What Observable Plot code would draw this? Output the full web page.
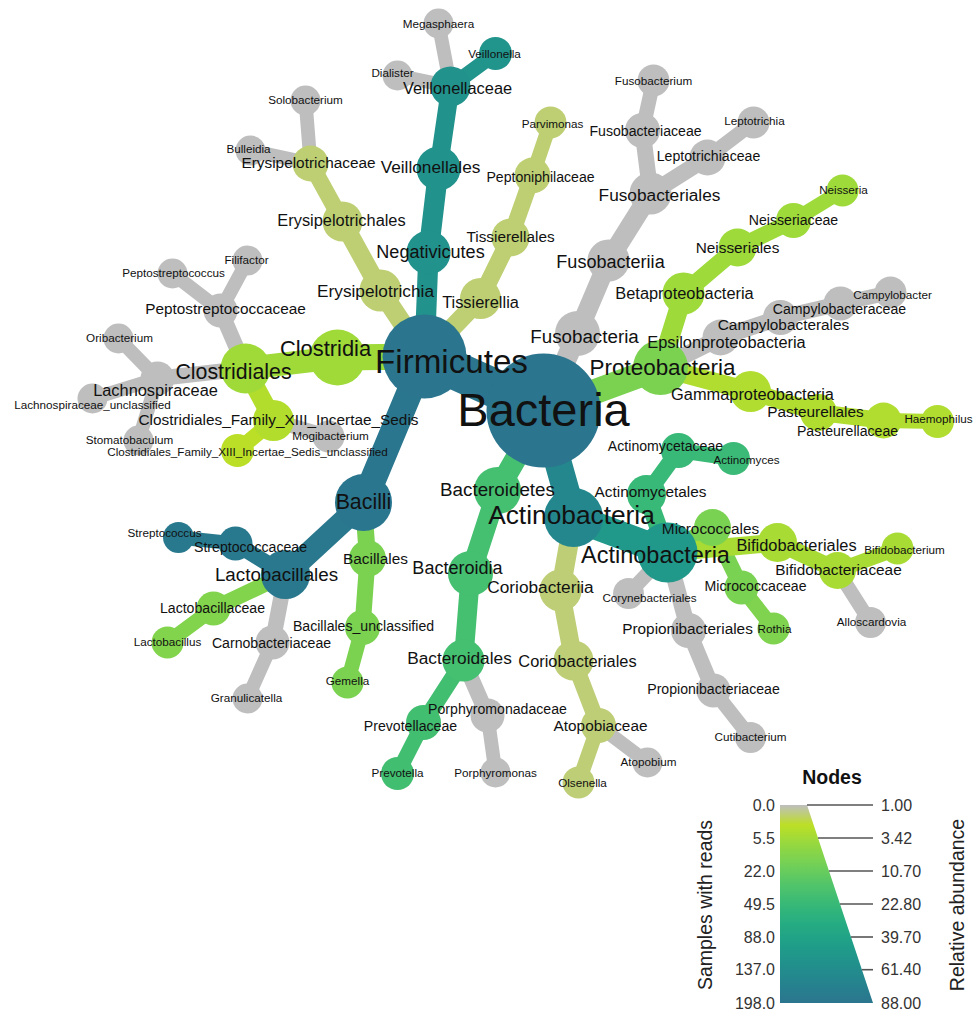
<!DOCTYPE html>
<html>
<head>
<meta charset="utf-8">
<script src="https://cdn.jsdelivr.net/npm/d3@7"></script>
<script src="https://cdn.jsdelivr.net/npm/@observablehq/plot@0.6"></script>
<style>
  html, body { margin: 0; padding: 0; background: #fff; }
  #chart { width: 973px; height: 1010px; }
</style>
</head>
<body>
<div id="chart"></div>
<script>
// ---- Taxonomy (ids are unique; a rank tag in parentheses is not drawn) ----
const taxa = [
  "Bacteria",
  "Firmicutes", "Negativicutes", "Veillonellales", "Veillonellaceae", "Veillonella", "Megasphaera", "Dialister",
  "Erysipelotrichia", "Erysipelotrichales", "Erysipelotrichaceae", "Solobacterium", "Bulleidia",
  "Tissierellia", "Tissierellales", "Peptoniphilaceae", "Parvimonas",
  "Clostridia", "Clostridiales", "Peptostreptococcaceae", "Peptostreptococcus", "Filifactor",
  "Lachnospiraceae", "Oribacterium", "Lachnospiraceae_unclassified", "Stomatobaculum",
  "Clostridiales_Family_XIII_Incertae_Sedis", "Clostridiales_Family_XIII_Incertae_Sedis_unclassified", "Mogibacterium",
  "Bacilli", "Lactobacillales", "Streptococcaceae", "Streptococcus", "Lactobacillaceae", "Lactobacillus",
  "Carnobacteriaceae", "Granulicatella", "Bacillales", "Bacillales_unclassified", "Gemella",
  "Actinobacteria (phylum)", "Actinobacteria (class)", "Actinomycetales", "Actinomycetaceae", "Actinomyces",
  "Micrococcales", "Micrococcaceae", "Rothia", "Bifidobacteriales", "Bifidobacteriaceae", "Bifidobacterium", "Alloscardovia",
  "Corynebacteriales", "Propionibacteriales", "Propionibacteriaceae", "Cutibacterium",
  "Coriobacteriia", "Coriobacteriales", "Atopobiaceae", "Olsenella", "Atopobium",
  "Proteobacteria", "Betaproteobacteria", "Neisseriales", "Neisseriaceae", "Neisseria",
  "Epsilonproteobacteria", "Campylobacterales", "Campylobacteraceae", "Campylobacter",
  "Gammaproteobacteria", "Pasteurellales", "Pasteurellaceae", "Haemophilus",
  "Bacteroidetes", "Bacteroidia", "Bacteroidales", "Prevotellaceae", "Prevotella", "Porphyromonadaceae", "Porphyromonas",
  "Fusobacteria", "Fusobacteriia", "Fusobacteriales", "Fusobacteriaceae", "Fusobacterium", "Leptotrichiaceae", "Leptotrichia"
];

const parents = [
  "",
  "Bacteria", "Firmicutes", "Negativicutes", "Veillonellales", "Veillonellaceae", "Veillonellaceae", "Veillonellaceae",
  "Firmicutes", "Erysipelotrichia", "Erysipelotrichales", "Erysipelotrichaceae", "Erysipelotrichaceae",
  "Firmicutes", "Tissierellia", "Tissierellales", "Peptoniphilaceae",
  "Firmicutes", "Clostridia", "Clostridiales", "Peptostreptococcaceae", "Peptostreptococcaceae",
  "Clostridiales", "Lachnospiraceae", "Lachnospiraceae", "Lachnospiraceae",
  "Clostridiales", "Clostridiales_Family_XIII_Incertae_Sedis", "Clostridiales_Family_XIII_Incertae_Sedis",
  "Firmicutes", "Bacilli", "Lactobacillales", "Streptococcaceae", "Lactobacillales", "Lactobacillaceae",
  "Lactobacillales", "Carnobacteriaceae", "Bacilli", "Bacillales", "Bacillales_unclassified",
  "Bacteria", "Actinobacteria (phylum)", "Actinobacteria (class)", "Actinomycetales", "Actinomycetaceae",
  "Actinobacteria (class)", "Micrococcales", "Micrococcaceae", "Actinobacteria (class)", "Bifidobacteriales", "Bifidobacteriaceae", "Bifidobacteriaceae",
  "Actinobacteria (class)", "Actinobacteria (class)", "Propionibacteriales", "Propionibacteriaceae",
  "Actinobacteria (phylum)", "Coriobacteriia", "Coriobacteriales", "Atopobiaceae", "Atopobiaceae",
  "Bacteria", "Proteobacteria", "Betaproteobacteria", "Neisseriales", "Neisseriaceae",
  "Proteobacteria", "Epsilonproteobacteria", "Campylobacterales", "Campylobacteraceae",
  "Proteobacteria", "Gammaproteobacteria", "Pasteurellales", "Pasteurellaceae",
  "Bacteria", "Bacteroidetes", "Bacteroidia", "Bacteroidales", "Prevotellaceae", "Bacteroidales", "Porphyromonadaceae",
  "Bacteria", "Fusobacteria", "Fusobacteriia", "Fusobacteriales", "Fusobacteriaceae", "Fusobacteriales", "Leptotrichiaceae"
];

// Number of samples with reads for each taxon (node and edge colour)
const samplesWithReads = [
  198,
  195, 125, 125, 124, 120, 0, 0,
  0.5, 0.5, 0.5, 0, 0,
  0.5, 0.5, 0.5, 0.5,
  6, 6, 0, 0, 0,
  0, 0, 0, 0,
  3.2, 2.2, 0,
  194, 190, 186, 186, 13, 13,
  0, 0, 15, 15, 15,
  150, 112, 50, 50, 48,
  15.5, 15.5, 14, 4.6, 4.6, 4.6, 0,
  0, 0, 0, 0,
  0.45, 0.45, 0.45, 0.45, 0,
  15, 6.3, 6.3, 6.3, 6.3,
  0, 0, 0, 0,
  3.5, 3.5, 3.5, 3.5,
  40, 40, 40, 42, 42, 0, 0,
  0, 0, 0, 0, 0, 0, 0
];

// Relative abundance of each taxon (node and edge size)
const relativeAbundance = [
  88,
  37, 3.43, 3.43, 2.23, 1.11, 1, 1,
  2.78, 2.23, 1.44, 1, 1,
  2.49, 1.79, 1.44, 1.05,
  9.33, 5.93, 1.2, 1, 1,
  1.2, 1, 1, 1,
  2.49, 1.11, 1.05,
  9.99, 5.49, 1.2, 1.01, 1.2, 1.05,
  1.2, 1, 1.6, 1.31, 1.05,
  11.3, 12.1, 2.0, 1.31, 1.11,
  1.6, 1.2, 1.05, 2.0, 1.6, 1.05, 1.01,
  1.01, 1.31, 1.2, 1.01,
  2.78, 2.23, 1.31, 1.05, 1,
  8.7, 2.78, 1.79, 1.31, 1.05,
  1.44, 1.31, 1.2, 1.05,
  2.49, 1.6, 1.44, 1.11,
  4.58, 3.8, 2.78, 1.31, 1.11, 1.2, 1,
  3.8, 2.78, 2.78, 1.31, 1.05, 1.44, 1.05
];

// ---- Tree layout (layout units) ----
const layoutX = [
  543,
  424, 428, 438, 450, 495, 438, 397,
  380, 342, 310, 305, 250,
  480, 510, 532, 550,
  337, 245, 220, 172, 247,
  157, 118, 92, 138,
  273, 237, 328,
  363, 285, 235, 178, 213, 167,
  272, 247, 367, 362, 347,
  573, 667, 646, 678, 733,
  712, 741, 773, 777, 837, 897, 870,
  628, 688, 713, 750,
  560, 573, 598, 578, 647,
  660, 683, 737, 793, 842,
  720, 780, 840, 890,
  750, 818, 883, 937,
  497, 470, 463, 423, 397, 487, 495,
  577, 608, 650, 642, 653, 707, 753
];
const layoutY = [
  410,
  356, 252, 168, 86, 53, 23, 75,
  290, 221, 163, 100, 150,
  298, 237, 175, 122,
  357, 368, 310, 273, 260,
  378, 338, 398, 440,
  420, 450, 436,
  502, 574, 543, 537, 608, 642,
  642, 698, 558, 627, 682,
  517, 552, 494, 450, 458,
  527, 587, 628, 542, 570, 548, 622,
  593, 630, 690, 737,
  590, 660, 725, 782, 762,
  367, 293, 247, 220, 190,
  337, 317, 303, 292,
  391, 412, 420, 421,
  490, 573, 660, 722, 773, 715, 772,
  333, 260, 193, 130, 80, 157, 122
];
// Label offsets from each node centre
const labelDx = [
  0,
  27, 2, -8, 7, -1, 0, -5,
  -5, -1, -2, 0, -2,
  0, 0, 8, 2,
  -12, -12, 5, 1, -1,
  -2, 1, 0, -9,
  5, 10, 2,
  0, -9, 15, -14, -1, 0,
  -1, -1, 8, 1, 0,
  -2, -12, 4, -13, 13,
  -2, 14, 1, 19, 1, 7, 1,
  21, -1, 0, 0,
  -20, 4, 2, 4, 1,
  2, 1, 0, 0, 1,
  6, 3, -1, 2,
  2, -3, -36, 1,
  0, -13, -4, -13, 0, 10, 0,
  7, 2, 9, 3, 0, 1, 1
];
const labelDy = [
  0,
  6, 0, -1, 2, 1, 1, -2,
  1, -1, 0, 0, -1,
  4, 0, 2, 2,
  -9, 4, -1, 0, 0,
  12, 0, 7, 0,
  0, 2, 0,
  0, 0, 4, -4, 0, 0,
  1, 0, 1, -1, -1,
  -2, 3, -2, -4, 2,
  2, -1, 1, 3, 0, 2, 0,
  5, -1, -1, 0,
  -3, 1, 1, 1, 0,
  0, 0, 1, 0, 0,
  5, 8, 6, 3,
  3, 0, 11, -2,
  -1, -5, -2, 4, 0, -6, 1,
  3, 2, 2, 1, 1, -1, -1
];

// ---- Legend ticks ----
const readsTicks = [0, 5.5, 22, 49.5, 88, 137, 198];
const abundanceTicks = [1, 3.42, 10.7, 22.8, 39.7, 61.4, 88];

// ---- Build nodes and edges ----
const nodes = taxa.map((id, i) => ({
  id,
  name: id.replace(/ \(.+\)$/, ""),
  parent: parents[i],
  reads: samplesWithReads[i],
  abundance: relativeAbundance[i],
  x: layoutX[i],
  y: layoutY[i],
  lx: layoutX[i] + labelDx[i],
  ly: layoutY[i] + labelDy[i],
  descendants: 0
}));
const byId = new Map(nodes.map(d => [d.id, d]));
for (const n of nodes) {
  let p = byId.get(n.parent);
  while (p) { p.descendants++; p = byId.get(p.parent); }
}
const edges = nodes.filter(d => byId.has(d.parent)).map(d => {
  const p = byId.get(d.parent);
  return {x1: p.x, y1: p.y, x2: d.x, y2: d.y, reads: d.reads, abundance: d.abundance};
});

// ---- Scales ----
// grey for no reads, then viridis from yellow-green to blue-teal
const ramp = ["#bebebe", ...d3.range(10).map(i => d3.interpolateViridis(0.9 - i * (0.9 - 0.39) / 9))];
const colorRamp = d3.piecewise(d3.interpolateRgb, ramp);
const colorOptions = {type: "sqrt", domain: [0, 198], interpolate: colorRamp};
// node radius grows with the square root of abundance above the minimum (1)
const rOptions = {type: "sqrt", domain: [0, 87], range: [15, 57]};
const rScale = Plot.scale({r: rOptions});
const colorScale = Plot.scale({color: colorOptions});
// label size grows with the number of subtaxa below a node
const labelScale = Plot.scale({r: {type: "pow", exponent: 0.6, domain: [0, 87], range: [11.7, 47]}});

const fontFamily = "'Liberation Sans', Arial, Helvetica, sans-serif";

const chart = Plot.plot({
  width: 973,
  height: 1010,
  margin: 0,
  x: {domain: [0, 973], range: [0, 973], axis: null},
  y: {domain: [0, 1010], range: [0, 1010], axis: null},
  r: rOptions,
  color: colorOptions,
  style: {fontFamily, background: "#fff", overflow: "visible"},
  marks: [
    Plot.link(edges, {
      x1: "x1", y1: "y1", x2: "x2", y2: "y2",
      stroke: "reads",
      strokeWidth: d => 0.92 * rScale.apply(d.abundance - 1),
      strokeLinecap: "round"
    }),
    Plot.dot(nodes, {
      x: "x", y: "y",
      r: d => d.abundance - 1,
      fill: "reads",
      stroke: "none"
    }),
    Plot.text(nodes, {
      x: "lx", y: "ly",
      text: "name",
      fontSize: d => labelScale.apply(d.descendants),
      fill: "#111"
    })
  ]
});
document.getElementById("chart").appendChild(chart);

// ---- Legend: colour (samples with reads) and size (relative abundance) ----
const svg = d3.select(chart);
const L = {left: 780, top: 805, bottom: 1003, topW: 27, botW: 93, tickEnd: 873};
const posOfReads = v => Math.sqrt(v / 198);
const yOfPos = p => L.top + p * (L.bottom - L.top);

const grad = svg.append("defs").append("linearGradient")
  .attr("id", "nodes-legend-gradient")
  .attr("x1", 0).attr("x2", 0).attr("y1", 0).attr("y2", 1);
d3.range(0, 1.0001, 0.02).forEach(p => {
  grad.append("stop").attr("offset", p).attr("stop-color", colorScale.apply(198 * p * p));
});

const lg = svg.append("g").attr("font-family", fontFamily);
lg.append("polygon")
  .attr("points", [
    [L.left, L.top], [L.left + L.topW, L.top],
    [L.left + L.botW, L.bottom], [L.left, L.bottom]
  ].map(p => p.join(",")).join(" "))
  .attr("fill", "url(#nodes-legend-gradient)");

readsTicks.forEach((v, i) => {
  const p = posOfReads(v);
  const y = yOfPos(p);
  const xStart = L.left + L.topW + (L.botW - L.topW) * p;
  if (L.tickEnd - xStart > 0.5) {
    lg.append("line")
      .attr("x1", xStart).attr("x2", L.tickEnd)
      .attr("y1", y).attr("y2", y)
      .attr("stroke", "#555").attr("stroke-width", 1.6);
  }
  lg.append("text")
    .attr("x", 775).attr("y", y).attr("dy", "0.35em")
    .attr("text-anchor", "end").attr("font-size", 16).attr("fill", "#333")
    .text(d3.format(".1f")(v));
  lg.append("text")
    .attr("x", 881).attr("y", y).attr("dy", "0.35em")
    .attr("text-anchor", "start").attr("font-size", 16).attr("fill", "#333")
    .text(d3.format(".2f")(abundanceTicks[i]));
});

lg.append("text")
  .attr("x", 832).attr("y", 777).attr("dy", "0.35em")
  .attr("text-anchor", "middle").attr("font-size", 19.5).attr("font-weight", "bold").attr("fill", "#111")
  .text("Nodes");
lg.append("text")
  .attr("transform", "translate(705,905) rotate(-90)").attr("dy", "0.35em")
  .attr("text-anchor", "middle").attr("font-size", 19.5).attr("fill", "#222")
  .text("Samples with reads");
lg.append("text")
  .attr("transform", "translate(957,905) rotate(-90)").attr("dy", "0.35em")
  .attr("text-anchor", "middle").attr("font-size", 19.5).attr("fill", "#222")
  .text("Relative abundance");
</script>
</body>
</html>
